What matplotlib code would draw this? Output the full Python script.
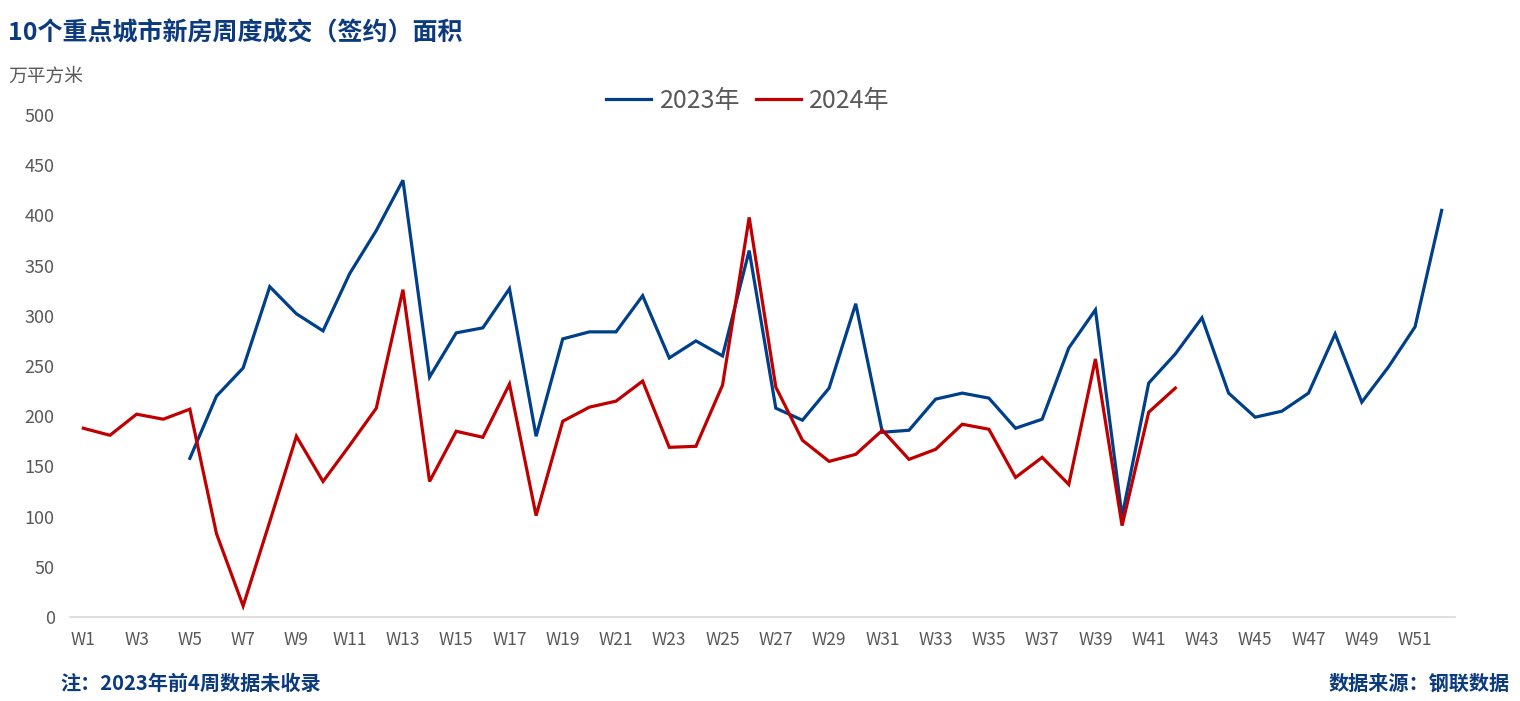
import matplotlib
matplotlib.use("Agg")
import matplotlib.pyplot as plt
import numpy as np

plt.rcParams['font.family'] = ['Noto Sans CJK SC', 'DejaVu Sans']

weeks = [f"W{i}" for i in range(1, 53)]
tick_labels = [f"W{i}" for i in range(1, 53, 2)]

# 2023: W1-W4 not recorded
v2023 = [None, None, None, None,
         158, 220, 248, 329, 302, 285, 342, 385, 435, 239, 283, 288, 327,
         180, 277, 284, 284, 320, 258, 275, 260, 365, 208, 196, 228, 312,
         184, 186, 217, 223, 218, 188, 197, 268, 306, 100, 233, 262, 298,
         223, 199, 205, 223, 282, 214, 249, 289, 405]
v2024 = [188, 181, 202, 197, 207, 83, 11, 95, 180, 135, 171, 208, 326,
         135, 185, 179, 232, 101, 195, 209, 215, 235, 169, 170, 231, 398,
         229, 176, 155, 162, 186, 157, 167, 192, 187, 139, 159, 132, 257,
         91, 204, 228]

blue = '#003F8A'
red = '#C00000'
gray = '#595959'

fig = plt.figure(figsize=(15.2, 7.01), dpi=100)
ax = fig.add_axes([70/1520, (701-617)/701, (1455-70)/1520, (617-115)/701])

x23 = np.arange(1, len(v2023) + 1)
y23 = np.array([np.nan if v is None else v for v in v2023], dtype=float)
x24 = np.arange(1, len(v2024) + 1)
ax.plot(x23, y23, color=blue, lw=2.3, label='2023年', solid_joinstyle='miter')
ax.plot(x24, v2024, color=red, lw=2.3, label='2024年', solid_joinstyle='miter')

ax.set_xlim(0.5, 52.5)
ax.set_ylim(0, 500)
ax.set_yticks(range(0, 501, 50))
ax.set_xticks(range(1, 53, 2))
ax.set_xticklabels(tick_labels)
for s in ['top', 'right', 'left']:
    ax.spines[s].set_visible(False)
ax.spines['bottom'].set_color('#D9D9D9')
ax.spines['bottom'].set_linewidth(1.2)
ax.tick_params(axis='both', length=0, colors=gray)
ax.tick_params(axis='y', pad=11, labelsize=13)
ax.tick_params(axis='x', pad=10, labelsize=12.5)

leg = fig.legend(loc='center', bbox_to_anchor=(748/1520, 1 - 101/701), ncol=2,
                 frameon=False, fontsize=18, handlelength=1.8, columnspacing=0.6,
                 handletextpad=0.35)
for t in leg.get_texts():
    t.set_color(gray)

fig.text(8/1520, 1 - 33/701, '10个重点城市新房周度成交（签约）面积', fontsize=18,
         fontweight='bold', color='#0B3A7E', va='center', ha='left')
fig.text(8/1520, 1 - 76/701, '万平方米', fontsize=13.5, color=gray, va='center', ha='left')
fig.text(60/1520, 1 - 683/701, '注：2023年前4周数据未收录', fontsize=14.5,
         fontweight='bold', color='#0B3A7E', va='center', ha='left')
fig.text(1510/1520, 1 - 683/701, '数据来源：钢联数据', fontsize=14.5,
         fontweight='bold', color='#0B3A7E', va='center', ha='right')

fig.savefig('out.png', dpi=100)
